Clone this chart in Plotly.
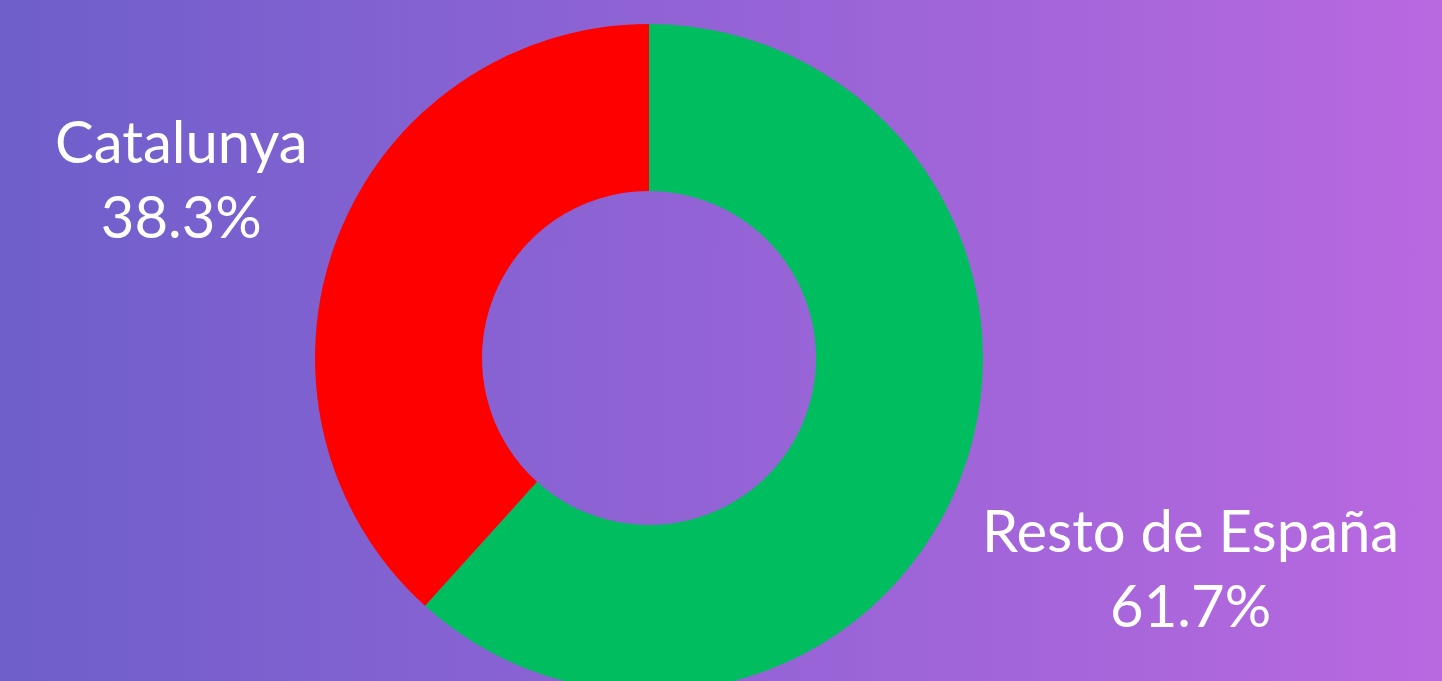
import base64
import math
import plotly.graph_objects as go

# data (drawn clockwise from 12 o'clock)
labels = ["Resto de España", "Catalunya"]
values = [61.7, 38.3]
slice_colors = ["#00BE60", "#FF0000"]

bg_left = "#6E5FCB"
bg_right = "#B968E0"

W, H = 1442, 717
FONT = "Lato"
FSIZE = 58

svg = (
    '<svg xmlns="http://www.w3.org/2000/svg" width="100" height="100" preserveAspectRatio="none">'
    '<defs><linearGradient id="g" x1="0" y1="0" x2="1" y2="0">'
    f'<stop offset="0" stop-color="{bg_left}"/><stop offset="1" stop-color="{bg_right}"/>'
    '</linearGradient></defs><rect width="100" height="100" fill="url(#g)"/></svg>'
)
bg_src = "data:image/svg+xml;base64," + base64.b64encode(svg.encode()).decode()

fig = go.Figure()

cx, cy, r = 649, 358, 334
fig.add_trace(go.Pie(
    labels=labels, values=values,
    marker=dict(colors=slice_colors, line=dict(width=0)),
    hole=0.5, sort=False, direction="clockwise", rotation=0,
    textinfo="none", hoverinfo="label+percent",
    showlegend=False, automargin=False,
    domain=dict(x=[(cx - r) / W, (cx + r) / W], y=[(H - cy - r) / H, (H - cy + r) / H]),
))

# outside labels placed along each slice's mid-angle, just beyond the ring
total = sum(values)
annotations = []
cum = 0.0
gap = 22
for lab, val in zip(labels, values):
    frac_mid = (cum + val / 2) / total
    cum += val
    phi = 2 * math.pi * frac_mid
    ux, uy = math.sin(phi), -math.cos(phi)          # screen coords (y down)
    pct = f"{100 * val / total:.1f}%"
    a = 0.486 * FSIZE * max(len(lab), len(pct)) / 2  # half text width
    b = 75                                           # half text height
    d = r + gap + a * abs(ux) + b * abs(uy)
    px, py = cx + ux * d, cy + uy * d
    annotations.append(dict(
        text=f"{lab}<br>{pct}", x=px / W, y=1 - py / H, xref="paper", yref="paper",
        xanchor="center", yanchor="middle", showarrow=False, align="center",
        font=dict(family=FONT, size=FSIZE, color="white"),
    ))

fig.update_layout(
    width=W, height=H,
    margin=dict(l=0, r=0, t=0, b=0),
    paper_bgcolor="#8F63D4",
    images=[dict(source=bg_src, xref="paper", yref="paper", x=0, y=1,
                 sizex=1, sizey=1, sizing="stretch", xanchor="left", yanchor="top",
                 layer="below")],
    annotations=annotations,
    font=dict(family=FONT, color="white"),
)

fig.write_html("out.html", config={"displayModeBar": False},
               post_script="document.body.style.margin='0';document.body.style.overflow='hidden';")
